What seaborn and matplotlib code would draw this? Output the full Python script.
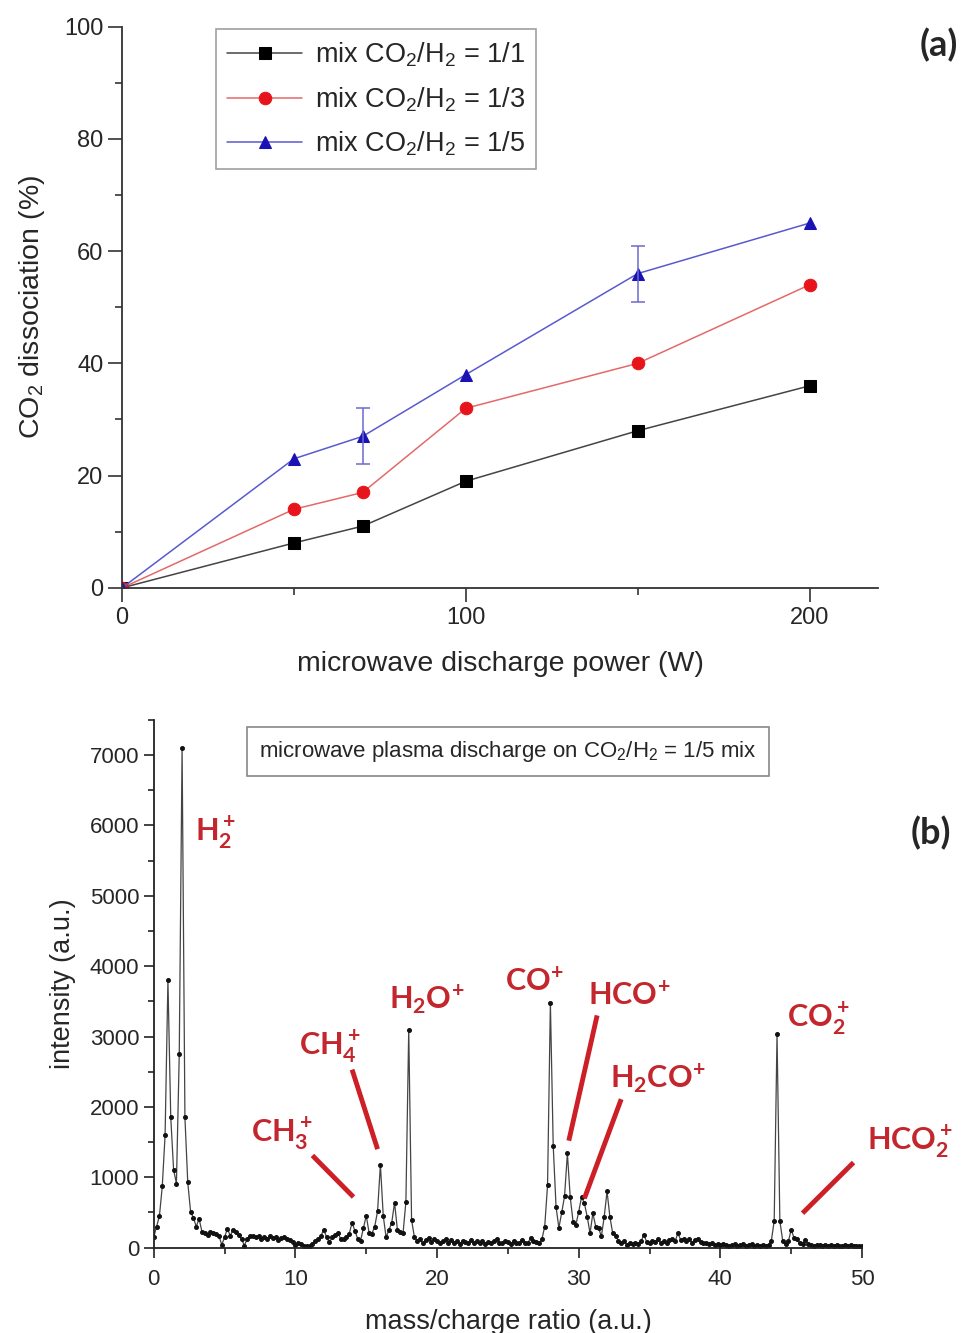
import numpy as np
import pandas as pd
import seaborn as sns
import matplotlib
matplotlib.use("Agg")
import matplotlib.pyplot as plt
from matplotlib.ticker import MultipleLocator

# (a) CO2 dissociation vs microwave power
power = [0, 50, 70, 100, 150, 200]
diss_11 = [0, 8, 11, 19, 28, 36]
diss_13 = [0, 14, 17, 32, 40, 54]
diss_15 = [0, 23, 27, 38, 56, 65]
err_power = [70, 150]
err_val = [27, 56]
err_size = [5, 5]
series_names = ["mix $\\mathregular{CO_2/H_2}$ = 1/1",
                "mix $\\mathregular{CO_2/H_2}$ = 1/3",
                "mix $\\mathregular{CO_2/H_2}$ = 1/5"]

# (b) mass spectrum, one row per a.m.u. (steps of 0.2)
intensity = [
    150, 300, 450, 870, 1600,
    3800, 1850, 1110, 910, 2750,
    7100, 1850, 930, 510, 425,
    300, 410, 230, 210, 185,
    225, 210, 190, 170, 40,
    150, 270, 170, 255, 230,
    185, 120, 30, 130, 160,
    170, 150, 160, 130, 150,
    120, 160, 140, 150, 110,
    140, 150, 130, 110, 80,
    40, 70, 50, 20, 30,
    30, 50, 90, 130, 170,
    255, 150, 75, 150, 180,
    215, 120, 130, 150, 200,
    355, 240, 125, 100, 280,
    455, 215, 200, 300, 520,
    1180, 455, 150, 250, 355,
    640, 255, 230, 210, 650,
    3100, 395, 150, 100, 120,
    60, 110, 140, 80, 130,
    100, 60, 90, 120, 70,
    110, 60, 90, 50, 100,
    80, 60, 110, 70, 90,
    60, 100, 50, 80, 60,
    100, 130, 70, 60, 90,
    80, 50, 100, 60, 70,
    110, 70, 60, 140, 90,
    80, 60, 120, 300, 890,
    3480, 1450, 580, 280, 500,
    730, 1340, 720, 370, 325,
    510, 720, 630, 440, 205,
    490, 300, 280, 160, 440,
    800, 440, 205, 170, 100,
    60, 90, 40, 70, 50,
    70, 50, 90, 185, 80,
    60, 100, 80, 130, 60,
    90, 70, 110, 120, 90,
    205, 110, 130, 90, 120,
    70, 110, 130, 80, 60,
    70, 50, 60, 40, 50,
    40, 50, 40, 30, 40,
    50, 30, 40, 50, 30,
    40, 50, 30, 40, 30,
    40, 30, 40, 100, 380,
    3030, 380, 100, 50, 90,
    255, 140, 130, 60, 50,
    115, 50, 40, 30, 40,
    40, 30, 40, 30, 40,
    30, 40, 30, 30, 40,
    30, 40, 30, 30, 30,
    30,
]
mz = np.round(np.arange(len(intensity)) * 0.2, 1)

peak_labels = ["$\\mathregular{H_2^+}$", "$\\mathregular{CH_3^+}$", "$\\mathregular{CH_4^+}$",
               "$\\mathregular{H_2O^{\\!+}}$", "$\\mathregular{CO^{\\!+}}$", "$\\mathregular{HCO^{\\!+}}$",
               "$\\mathregular{H_2CO^{\\!+}}$", "$\\mathregular{CO_2^+}$", "$\\mathregular{HCO_2^+}$"]

sns.set_theme(style="ticks")
plt.rcParams["font.family"] = ["Liberation Sans", "DejaVu Sans"]
plt.rcParams["mathtext.default"] = "regular"

fig = plt.figure(figsize=(9.61, 13.33), dpi=100)

# ---- panel (a)
ax1 = fig.add_axes([0.127, 0.559, 0.787, 0.421])
df = pd.DataFrame({"power": power * 3,
                   "diss": diss_11 + diss_13 + diss_15,
                   "mix": [series_names[0]] * 6 + [series_names[1]] * 6 + [series_names[2]] * 6})
cols = ["#000000", "#e8141c", "#1a12b4"]
lcols = ["#444444", "#e46a6a", "#5a5ad0"]
marks = ["s", "o", "^"]
for i, name in enumerate(series_names):
    sub = df[df["mix"] == name]
    sns.lineplot(data=sub, x="power", y="diss", ax=ax1, color=lcols[i], lw=1.1,
                 marker=marks[i], markersize=9, markerfacecolor=cols[i],
                 markeredgecolor=cols[i], label=name)
ax1.errorbar(err_power, err_val, yerr=err_size, fmt="none", ecolor="#6a6ad0",
             elinewidth=1.1, capsize=5, capthick=1.1)

ax1.set_xlim(0, 220)
ax1.set_ylim(0, 100)
ax1.xaxis.set_major_locator(MultipleLocator(100))
ax1.xaxis.set_minor_locator(MultipleLocator(50))
ax1.yaxis.set_major_locator(MultipleLocator(20))
ax1.yaxis.set_minor_locator(MultipleLocator(10))
ax1.tick_params(which="major", direction="out", length=10, width=1.2, labelsize=17, color="#333333")
ax1.tick_params(which="minor", direction="out", length=5, width=1.2, color="#333333")
for s in ["top", "right"]:
    ax1.spines[s].set_visible(False)
for s in ["left", "bottom"]:
    ax1.spines[s].set_linewidth(1.3)
    ax1.spines[s].set_color("#333333")
ax1.set_xlabel("microwave discharge power (W)", fontsize=20.5, labelpad=16)
ax1.set_ylabel("$\\mathregular{CO_2}$ dissociation (%)", fontsize=20.5, labelpad=12)
leg = ax1.legend(loc="upper left", bbox_to_anchor=(0.124, 0.995), borderaxespad=0,
                 fontsize=19.5, frameon=True, fancybox=False, edgecolor="#888888",
                 handlelength=2.8, labelspacing=0.6, borderpad=0.4, handletextpad=0.45)
leg.get_frame().set_linewidth(1.2)

# ---- panel (b)
ax2 = fig.add_axes([0.160, 0.064, 0.737, 0.396])
sns.lineplot(x=mz, y=intensity, ax=ax2, color="#444444", lw=0.9,
             marker="o", markersize=2.8, markerfacecolor="#111111",
             markeredgecolor="#111111")
ax2.set_xlim(0, 50)
ax2.set_ylim(0, 7500)
ax2.xaxis.set_major_locator(MultipleLocator(10))
ax2.xaxis.set_minor_locator(MultipleLocator(5))
ax2.yaxis.set_major_locator(MultipleLocator(1000))
ax2.yaxis.set_minor_locator(MultipleLocator(500))
ax2.tick_params(which="major", direction="out", length=7, width=1.2, labelsize=16, color="#222222")
ax2.tick_params(which="minor", direction="out", length=4, width=1.2, color="#222222")
ax2.tick_params(axis="x", pad=8)
for s in ["top", "right"]:
    ax2.spines[s].set_visible(False)
for s in ["left", "bottom"]:
    ax2.spines[s].set_linewidth(1.3)
    ax2.spines[s].set_color("#222222")
ax2.set_xlabel("mass/charge ratio (a.u.)", fontsize=19.5, labelpad=14)
ax2.set_ylabel("intensity (a.u.)", fontsize=19.5, labelpad=10)
ax2.text(0.5, 0.94, "microwave plasma discharge on $\\mathregular{CO_2/H_2}$ = 1/5 mix",
         transform=ax2.transAxes, ha="center", va="center", fontsize=16,
         bbox=dict(boxstyle="square,pad=0.55", fc="white", ec="#888888", lw=1.2))

red = "#c3262c"
lab_xy = [(4.4, 5900), (9.0, 1620), (12.4, 2850), (19.3, 3530), (26.9, 3780),
          (33.6, 3590), (35.6, 2400), (46.9, 3250), (53.4, 1500)]
for txt, (x, y) in zip(peak_labels, lab_xy):
    ax2.text(x, y, txt, color=red, fontsize=22, fontweight="bold", family="Lato",
             ha="center", va="center", clip_on=False)
leader = [((11.2, 1310), (14.1, 720)), ((14.0, 2530), (15.8, 1400)),
          ((31.3, 3300), (29.3, 1520)), ((33.0, 2110), (30.4, 700)),
          ((49.4, 1210), (45.8, 490))]
for (x0, y0), (x1, y1) in leader:
    ax2.plot([x0, x1], [y0, y1], color="#cc1f26", lw=3.5, solid_capstyle="butt", clip_on=False)

fig.text(0.997, 0.966, "(a)", fontsize=26, fontweight="bold", family="Lato", ha="right", va="center")
fig.text(0.990, 0.375, "(b)", fontsize=26, fontweight="bold", family="Lato", ha="right", va="center")

fig.savefig("out.png", dpi=100, facecolor="white")
